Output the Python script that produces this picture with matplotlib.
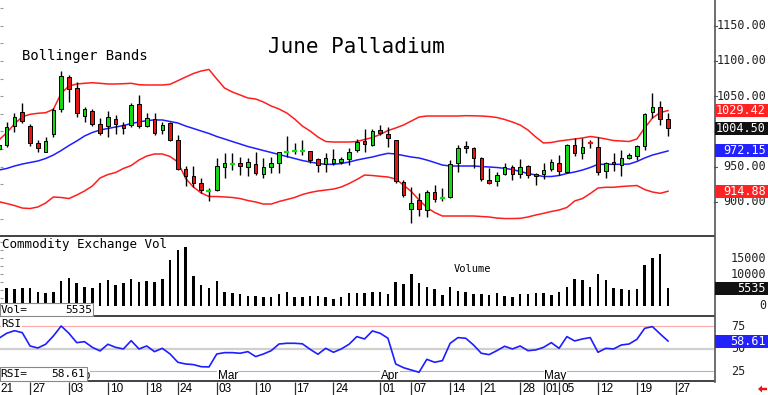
import matplotlib
matplotlib.use("Agg")
import matplotlib.pyplot as plt
from matplotlib.patches import Rectangle, Polygon
from matplotlib.lines import Line2D
from matplotlib.transforms import blended_transform_factory
import numpy as np

# ---------------- data (trading days 21 Jan .. 23 May) ----------------
opens = [975, 980.5, 1007, 1027, 1008, 983, 971, 996, 1031, 1077, 1062, 1022, 1029, 1010, 1007, 1017,
         1009, 1008.5, 1039, 1007.5, 1018, 1002, 1012, 988, 947, 936.5, 926, 915, 917, 950, 954, 955.5,
         949, 953.6, 940, 949, 955.5, 971, 972, 972, 971.6, 960, 953, 955, 957, 961, 973.5, 986,
         980.6, 1002, 996, 988, 928.5, 889, 903, 888, 914, 904.5, 906, 954.5, 979, 977, 962, 931,
         930, 940, 950, 940, 951, 939, 939, 947, 954.5, 942, 980, 969, 983.5, 978, 944, 957,
         952, 962.6, 965.4, 979.6, 1027, 1035, 1017]
highs = [985, 1013.6, 1025.5, 1039.7, 1010, 987.7, 992, 1032.6, 1085.7, 1080, 1070.5, 1035, 1031, 1018.4, 1029.3, 1023,
         1013.7, 1039.7, 1051.6, 1025.5, 1026.5, 1013.7, 1013.7, 994.8, 950.8, 950.8, 933.2, 919, 961.6, 969.7, 969.7, 964,
         961.6, 971, 961.6, 963, 971, 993.4, 983, 987.7, 971.6, 961.6, 968.7, 974.4, 964, 975.8, 988.6, 1002.8,
         1002.8, 1009, 1006.6, 988, 930.9, 921.4, 911.9, 916.7, 923.8, 919, 959.3, 980.6, 986.7, 978.2, 964, 947.4,
         942.7, 954.5, 952.2, 960.2, 952.2, 940.3, 954.5, 960.7, 966.4, 981.5, 991, 990, 987.7, 992.4, 956.9, 968.7,
         973.5, 968.7, 980.6, 1025.5, 1054, 1043, 1025.5]
lows = [972, 978, 999.5, 1011.3, 979, 971, 970, 992, 1027, 1042, 1020.8, 1013.7, 1008, 994.8, 991.5, 996.2,
        996, 1006.6, 1004.2, 1006.6, 994.8, 996, 986.7, 945, 922.3, 920.4, 912, 901.5, 915.7, 933.2, 945, 938,
        936.5, 938, 933.2, 941.3, 940.3, 964, 967.3, 966.4, 954.5, 942.7, 942.7, 952, 953, 952.2, 971.1, 971.1,
        979.2, 994.8, 978.2, 926.1, 906.2, 869.3, 879.7, 877.8, 900, 901.5, 904.8, 942.7, 968.7, 947.4, 929.9, 925.2,
        922.3, 938, 930.9, 933.2, 933.2, 923.8, 932.3, 943.6, 938, 940.3, 965.4, 960.7, 976.8, 938, 934.2, 943.6,
        937, 960.7, 959.3, 973.5, 1018.4, 1009, 993.8]
closes = [981, 1006.5, 1021, 1015, 983, 976, 986, 1030, 1078.6, 1060, 1026, 1032, 1010, 997, 1021, 1011,
          1005, 1037.4, 1007, 1018.4, 997, 1009, 988, 947, 936, 926, 916, 916, 951, 955.5, 954.5, 951,
          956, 940.3, 949, 954.5, 970, 971.5, 972.5, 972.5, 959.3, 952, 961.6, 960, 960, 970, 984.4, 982,
          1001, 997, 991, 930, 909.6, 898.7, 890, 914, 903.4, 905, 953.6, 977, 976, 962, 932, 926,
          938, 949, 940, 949, 938, 936.5, 945, 957, 943.6, 980.6, 969, 978, 982.8, 942, 954.5, 953,
          962.6, 966.4, 979.6, 1024.6, 1035, 1017, 1004.5]
bb_upper = [987.6, 998.0, 1010.4, 1020.7, 1024.1, 1025.6, 1026.4, 1031.3, 1054.0, 1064.3, 1067.2, 1068.2, 1069.0,
            1068.2, 1067.2, 1067.2, 1067.6, 1068.2, 1066.2, 1065.8, 1065.8, 1065.8, 1066.8, 1071.9, 1077.1,
            1082.1, 1085.7, 1087.8, 1074.3, 1061.5, 1055.8, 1051.6, 1047.3, 1045.9, 1041.6, 1035.9, 1031.7,
            1026.0, 1017.5, 1007.5, 1000.4, 991.9, 985.5, 984.8, 984.8, 984.8, 985.5, 988.4, 991.2, 995.5,
            1001.1, 1004.7, 1008.9, 1014.6, 1020.3, 1021.7, 1021.7, 1021.7, 1021.7, 1021.7, 1022.2, 1022.0,
            1021.7, 1021.0, 1019.6, 1016.8, 1013.2, 1008.9, 1001.8, 991.9, 983.4, 984.1, 986.2, 987.6, 989.1,
            990.5, 992.6, 991.2, 989.1, 986.9, 986.2, 985.5, 989.1, 1004.7, 1018.9, 1026.7, 1029.42]
bb_mid = [945.0, 947.2, 950.7, 953.5, 955.7, 957.8, 961.4, 966.3, 972.7, 979.8, 986.2, 993.3, 998.3, 1001.8,
          1004.0, 1006.1, 1008.2, 1011.1, 1013.2, 1015.3, 1016.1, 1016.1, 1013.9, 1011.8, 1007.5, 1004.0,
          1000.4, 996.9, 992.6, 989.1, 985.5, 982.0, 978.4, 975.6, 972.7, 969.9, 967.0, 964.2, 961.4, 958.5,
          956.4, 954.3, 953.1, 953.1, 954.3, 956.4, 959.2, 961.4, 963.5, 966.3, 968.7, 967.8, 965.6, 963.5,
          962.1, 959.2, 955.7, 952.1, 950.7, 950.7, 950.7, 950.7, 950.0, 949.3, 948.6, 947.4, 945.7, 942.9,
          940.1, 937.9, 935.8, 935.8, 937.2, 940.1, 942.2, 945.0, 948.6, 953.1, 953.1, 953.1, 953.1, 953.5,
          957.1, 962.1, 966.3, 969.2, 972.15]
bb_lower = [900.0, 897.4, 894.6, 891.0, 890.3, 892.5, 898.1, 906.7, 906.0, 904.5, 909.5, 915.2, 922.3, 933.7,
            938.6, 941.5, 947.2, 951.4, 959.2, 964.9, 967.8, 967.8, 964.2, 956.4, 933.0, 920.9, 912.4, 907.4,
            907.4, 906.7, 906.0, 904.5, 901.7, 899.6, 896.7, 896.7, 900.3, 903.1, 906.0, 910.2, 913.1, 915.2,
            916.6, 918.0, 920.9, 925.8, 931.5, 937.9, 937.2, 936.1, 935.1, 932.2, 923.7, 914.5, 902.4, 891.8,
            884.7, 879.7, 879.7, 879.7, 879.7, 879.7, 879.0, 878.3, 876.8, 876.1, 876.1, 876.4, 878.3, 881.1,
            883.5, 886.1, 888.2, 891.8, 901.0, 904.5, 911.6, 919.5, 920.5, 920.5, 921.6, 922.3, 923.0, 917.3,
            913.8, 911.9, 914.88]
volume = [5000, 5490, 5170, 5490, 5700, 4420, 4100, 4420, 7790, 8640, 7260, 5800, 5490, 7260, 8100, 6530,
          7070, 8330, 7570, 7890, 7380, 8330, 14420, 17570, 18620, 9370, 6530, 5490, 7890, 4420, 3910, 3690,
          3060, 3060, 2850, 2850, 3590, 4430, 2850, 2850, 3060, 3060, 2850, 2110, 2850, 4110, 3900, 3900,
          4220, 4430, 3590, 7580, 6850, 9900, 7060, 6000, 5160, 3380, 6000, 4740, 4220, 3590, 3590, 3380,
          3900, 3060, 2850, 3690, 3590, 4110, 4110, 3380, 4320, 5800, 8420, 8110, 6000, 9900, 8110, 5480,
          5270, 5060, 5160, 12950, 15050, 16310, 5535]
rsi = [61.7, 67.2, 70.1, 67.9, 53.1, 50.9, 55.0, 64.2, 75.3, 67.2, 56.8, 57.9, 51.6, 47.6, 55.0, 51.6,
       49.8, 59.0, 49.8, 53.1, 46.8, 50.5, 44.2, 35.0, 33.1, 32.4, 30.1, 29.8, 44.2, 45.7, 45.7, 45.0,
       46.8, 41.3, 44.2, 47.9, 55.3, 56.1, 56.1, 55.5, 49.4, 43.9, 50.5, 46.1, 49.8, 55.0, 63.5, 60.9,
       69.8, 67.2, 61.7, 33.1, 29.0, 26.4, 23.9, 38.3, 35.0, 36.8, 56.1, 62.4, 61.7, 54.2, 45.0, 43.5,
       47.9, 52.8, 49.8, 53.1, 47.9, 48.7, 51.6, 56.8, 50.5, 63.5, 58.7, 60.9, 62.4, 46.1, 50.5, 49.8,
       54.2, 55.3, 60.5, 72.7, 74.6, 66.4, 58.61]
tick_pos = [-1, 3, 8, 13, 18, 22, 27, 32, 37, 42, 48, 52, 57, 61, 66, 69, 71, 76, 81, 86]
tick_labels = ["21", "27", "03", "10", "18", "24", "03", "10", "17", "24",
               "01", "07", "14", "21", "28", "01", "05", "12", "19", "27"]
month_pos = [8, 27, 48, 69]
month_labels = ["Feb", "Mar", "Apr", "May"]
price_levels = [900, 950, 1050, 1100, 1150]
price_ticks = [900, 950, 1000, 1050, 1100, 1150]
vol_levels = [0, 10000, 15000]
rsi_levels = [25, 50, 75]

# ---------------- layout ----------------
W, H = 768, 395
MONO = "DejaVu Sans Mono"
SANS = "Liberation Sans"
GREEN = "#14d814"
RED = "#e81414"
BAND_RED = "#ff1e1e"
BLUE = "#1e1eff"

fig = plt.figure(figsize=(W / 100, H / 100), dpi=100)
fig.patch.set_facecolor("white")


def fx(px):
    return px / W


def fy(py):
    return 1 - py / H


AXR = 714
XLIM = (-0.861, 90.91)

ax_p = fig.add_axes([0, fy(236), fx(AXR), 236 / H])
ax_v = fig.add_axes([0, fy(316), fx(AXR), 80 / H])
ax_r = fig.add_axes([0, fy(381), fx(AXR), 65 / H])
ax_d = fig.add_axes([0, 0, fx(AXR), 14 / H])

for a in (ax_p, ax_v, ax_r, ax_d):
    a.set_xlim(*XLIM)
    for s in a.spines.values():
        s.set_visible(False)
    a.set_xticks([])
    a.set_facecolor("white")

x = np.arange(len(closes)) - 1
o = np.array(opens)
h = np.array(highs)
l = np.array(lows)
c = np.array(closes)

# ---------------- price panel ----------------
ax_p.set_ylim(851.3, 1186.5)
ax_p.set_yticks(np.arange(875, 1200, 25))
ax_p.tick_params(axis="y", direction="in", length=2, width=0.8, color="#999999", labelleft=False)

ax_p.plot(x, bb_upper, color=BAND_RED, lw=1.1, zorder=2)
ax_p.plot(x, bb_lower, color=BAND_RED, lw=1.1, zorder=2)
ax_p.plot(x, bb_mid, color=BLUE, lw=1.1, zorder=2)

up = c >= o
doji = np.abs(c - o) < 1.2
cols = np.where(up, GREEN, RED)
ax_p.vlines(x, l, h, color="black", lw=1.0, zorder=3)
nb = ~doji
ax_p.bar(x[nb], np.abs(c - o)[nb], bottom=np.minimum(o, c)[nb], width=0.46,
         color=cols[nb], edgecolor="black", linewidth=0.7, zorder=4)
ax_p.hlines(((o + c) / 2)[doji], x[doji] - 0.32, x[doji] + 0.32, colors=cols[doji], lw=1.6, zorder=4)

fig.text(fx(356.5), fy(47), "June Palladium", ha="center", va="center", fontsize=15, family=MONO)
fig.text(fx(22.5), fy(56), "Bollinger Bands", ha="left", va="center", fontsize=10, family=MONO)

tr_p = blended_transform_factory(fig.transFigure, ax_p.transData)
for v in price_levels:
    ax_p.text(fx(766.5), v, f"{v:.2f}", transform=tr_p, ha="right", va="center",
              fontsize=8.5, family=MONO, color="#222222", clip_on=False)
for v in price_ticks:
    ax_p.plot([fx(714), fx(717)], [v, v], transform=tr_p, color="#555555", lw=0.8, clip_on=False)

# ---------------- volume panel ----------------
ax_v.set_ylim(-3250, 21990)
ax_v.set_yticks(np.arange(2500, 20001, 2500))
ax_v.tick_params(axis="y", direction="in", length=2, width=0.8, color="#999999", labelleft=False)
ax_v.bar(x, volume, width=0.32, color="black", zorder=3)
fig.text(fx(1.5), fy(244.3), "Commodity Exchange Vol", ha="left", va="center", fontsize=9, family=MONO)
fig.text(fx(454), fy(269), "Volume", ha="left", va="center", fontsize=7.5, family=MONO)

tr_v = blended_transform_factory(fig.transFigure, ax_v.transData)
for v in vol_levels:
    ax_v.text(fx(766.5), v, f"{v}", transform=tr_v, ha="right", va="center",
              fontsize=8.5, family=MONO, color="#222222", clip_on=False)

# ---------------- RSI panel ----------------
ax_r.set_ylim(14.2, 86.4)
ax_r.set_yticks([])
ax_r.axhline(75, color="#ffaaaa", lw=0.8, zorder=1)
ax_r.axhline(50, color="#d0d0d0", lw=1.6, zorder=1)
ax_r.axhline(25, color="#aaaaff", lw=0.8, zorder=1)
ax_r.plot(x, rsi, color=BLUE, lw=1.2, zorder=3)
for p_, lab in zip(month_pos, month_labels):
    ax_r.text(p_ + 0.1, 20.1, lab, ha="left", va="center", fontsize=8.5, family=SANS, zorder=4,
              bbox=dict(facecolor="white", edgecolor="none", pad=0.3))
fig.text(fx(1.5), fy(324.3), "RSI", ha="left", va="center", fontsize=8, family=MONO,
         bbox=dict(facecolor="white", edgecolor="none", pad=0.5), zorder=8)

tr_r = blended_transform_factory(fig.transFigure, ax_r.transData)
for v in rsi_levels:
    ax_r.text(fx(731), v, f"{v}", transform=tr_r, ha="left", va="center",
              fontsize=8.5, family=MONO, color="#222222", clip_on=False)

# ---------------- date strip ----------------
ax_d.set_ylim(0, 1)
ax_d.set_yticks([])
ax_d.vlines(tick_pos, 0, 0.95, color="#333333", lw=0.9)
for p_, lab in zip(tick_pos, tick_labels):
    ax_d.text(p_ + 0.25, 0.42, lab, ha="left", va="center", fontsize=8.5, family=SANS)

# ---------------- frame lines ----------------
for yy in (236, 316, 381):
    fig.add_artist(Line2D([0, fx(714)], [fy(yy), fy(yy)], transform=fig.transFigure,
                          color="#333333", lw=1.3, zorder=9))
fig.add_artist(Line2D([fx(714.5), fx(714.5)], [fy(0), fy(382)], transform=fig.transFigure,
                      color="#555555", lw=1.2, zorder=9))


# ---------------- value boxes ----------------
def value_box(ax, val, txt, color):
    yc = ax.transData.transform((0, val))[1]
    fig.add_artist(Rectangle((fx(715), (yc - 6.5) / H), fx(768) - fx(715), 13 / H,
                             transform=fig.transFigure, facecolor=color, edgecolor="none", zorder=10))
    fig.text(fx(766), yc / H, txt, ha="right", va="center", color="white",
             fontsize=8.5, family=MONO, zorder=11)


value_box(ax_p, bb_upper[-1], f"{bb_upper[-1]:.2f}", "#ff2222")
value_box(ax_p, closes[-1], f"{closes[-1]:.2f}", "#111111")
value_box(ax_p, bb_mid[-1], f"{bb_mid[-1]:.2f}", "#2222ff")
value_box(ax_p, bb_lower[-1], f"{bb_lower[-1]:.2f}", "#ff2222")
value_box(ax_v, volume[-1], f"{volume[-1]}", "#111111")
value_box(ax_r, rsi[-1], f"{rsi[-1]:.2f}", "#2222ff")

# left readout boxes
fig.add_artist(Rectangle((fx(0), fy(316)), fx(93), 13 / H, transform=fig.transFigure,
                         facecolor="white", edgecolor="#888888", lw=0.8, zorder=10))
fig.text(fx(0.5), fy(309.7), "Vol=", ha="left", va="center", fontsize=8, family=MONO, zorder=11)
fig.text(fx(92), fy(309.7), f"{volume[-1]}", ha="right", va="center", fontsize=8, family=MONO, zorder=11)

fig.add_artist(Rectangle((fx(0), fy(381)), fx(87), 14 / H, transform=fig.transFigure,
                         facecolor="white", edgecolor="#888888", lw=0.8, zorder=10))
fig.text(fx(0.5), fy(374), "RSI=", ha="left", va="center", fontsize=8, family=MONO, zorder=11)
fig.text(fx(84.5), fy(374), f"{rsi[-1]:.2f}", ha="right", va="center", fontsize=8, family=MONO, zorder=11)

# red arrow
arrow_pts = [(758, 389), (762, 385.5), (762, 387.8), (767, 387.8), (767, 390.2), (762, 390.2), (762, 392.5)]
fig.add_artist(Polygon([(fx(px), fy(py)) for px, py in arrow_pts], closed=True,
                       transform=fig.transFigure, facecolor="#ee1111", edgecolor="none", zorder=10))

fig.savefig("out.png", dpi=100, facecolor="white")
